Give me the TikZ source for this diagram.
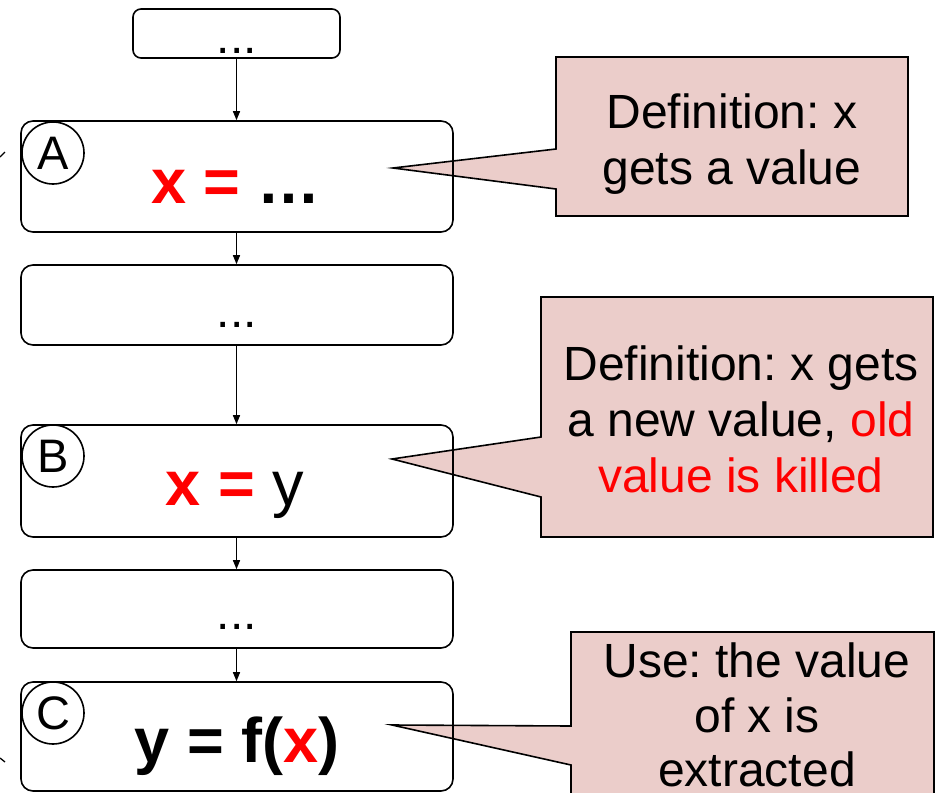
\documentclass[tikz,border=0pt]{standalone}
\usepackage{fontspec}
\setmainfont{Liberation Sans}
\usetikzlibrary{backgrounds,arrows.meta}
\definecolor{notefill}{RGB}{235,205,202}
\definecolor{hot}{RGB}{255,0,0}
\newcommand{\stmtsize}{\fontsize{63}{70}\selectfont}
\newcommand{\notesize}{\fontsize{48}{56}\selectfont}
\frenchspacing
\begin{document}
\begin{tikzpicture}[x=1pt,y=-1pt,
  block/.style={draw,line width=1.6pt,inner sep=0pt,minimum width=432pt,rounded corners=12pt},
  stmt/.style={anchor=base,inner sep=0pt,font=\stmtsize},
  dotline/.style={anchor=base,inner sep=0pt,font=\notesize},
  tag/.style={circle,draw,fill=white,line width=1.6pt,minimum size=62pt,inner sep=0pt,font=\fontsize{47}{47}\selectfont},
  flow/.style={line width=1.3pt,-{Triangle[length=9pt,width=7pt]}},
  note/.style={draw,fill=notefill,line width=1.6pt,line join=miter},
  noteline/.style={anchor=base,inner sep=0pt,font=\notesize},
  frame/.style={inner sep=0pt,outer sep=0pt}
]
\useasboundingbox (0,0) rectangle (936,792);

% flow boxes
\node[block,rounded corners=8pt,minimum width=207pt,minimum height=49pt] (top) at (236.5,33.5) {};
\node[block,minimum height=111pt] (A) at (237,176.5) {};
\node[block,minimum height=80pt] (mid1) at (237,305) {};
\node[block,minimum height=112pt] (B) at (237,481) {};
\node[block,minimum height=78pt] (mid2) at (237,609) {};
\node[block,minimum height=109pt] (C) at (237,736.5) {};

% statements
\node[dotline] (topdots) at (237,53) {...};
\node[stmt] (Atext) at (236,203) {\bfseries\textcolor{hot}{x =} …};
\node[dotline] (mid1dots) at (237,327) {...};
\node[stmt] (Btext) at (235,505) {\textcolor{hot}{\bfseries x =} y};
\node[dotline] (mid2dots) at (237,629) {...};
\node[stmt] (Ctext) at (237,762) {\bfseries y = f(\textcolor{hot}{x})};

% labels
\node[tag] (Atag) at (53,153) {A};
\node[tag] (Btag) at (53,456) {B};
\node[tag] (Ctag) at (53,713) {C};

% control flow
\draw[flow] (top.south) -- (top.south |- A.north);
\draw[flow] (top.south |- A.south) -- (top.south |- mid1.north);
\draw[flow] (top.south |- mid1.south) -- (top.south |- B.north);
\draw[flow] (top.south |- B.south) -- (top.south |- mid2.north);
\draw[flow] (top.south |- mid2.south) -- (top.south |- C.north);

% edge fragments on the left border
\coordinate (fa1) at (0,157);
\coordinate (fa2) at (5,152);
\coordinate (fc1) at (0,758);
\coordinate (fc2) at (5,762);
\draw[line width=1.3pt] (fa1) -- (fa2);
\draw[line width=1.3pt] (fc1) -- (fc2);

% callouts
\begin{scope}[on background layer]
  \node[frame,minimum width=352pt,minimum height=159pt] (n1) at (732,136.5) {};
  \coordinate (n1tip) at (393,168);
  \coordinate (n1a) at (556,149);
  \coordinate (n1b) at (556,189);
  \draw[note] (n1tip) -- (n1a) -- (n1.north west) -- (n1.north east) -- (n1.south east) -- (n1.south west) -- (n1b) -- cycle;

  \node[frame,minimum width=392pt,minimum height=240pt] (n2) at (737,417) {};
  \coordinate (n2tip) at (392,459);
  \coordinate (n2a) at (541,437);
  \coordinate (n2b) at (541,497);
  \draw[note] (n2tip) -- (n2a) -- (n2.north west) -- (n2.north east) -- (n2.south east) -- (n2.south west) -- (n2b) -- cycle;

  \node[frame,minimum width=363pt,minimum height=178pt] (n3) at (752.5,721) {};
  \coordinate (n3tip) at (392,725);
  \coordinate (n3a) at (571,726);
  \coordinate (n3b) at (571,765);
  \draw[note] (n3tip) -- (n3a) -- (n3.north west) -- (n3.north east) -- (n3.south east) -- (n3.south west) -- (n3b) -- cycle;
\end{scope}

\node[noteline] (n1l1) at (732,128) {Definition: x};
\node[noteline] (n1l2) at (732,184) {gets a value};

\node[noteline] (n2l1) at (741,380) {Definition: x gets};
\node[noteline] (n2l2) at (741,436) {a new value, \textcolor{hot}{old}};
\node[noteline,text=hot] (n2l3) at (741,492) {value is killed};

\node[noteline] (n3l1) at (757,677) {Use: the value};
\node[noteline] (n3l2) at (757,732) {of x is};
\node[noteline] (n3l3) at (757,786) {extracted};
\end{tikzpicture}
\end{document}
